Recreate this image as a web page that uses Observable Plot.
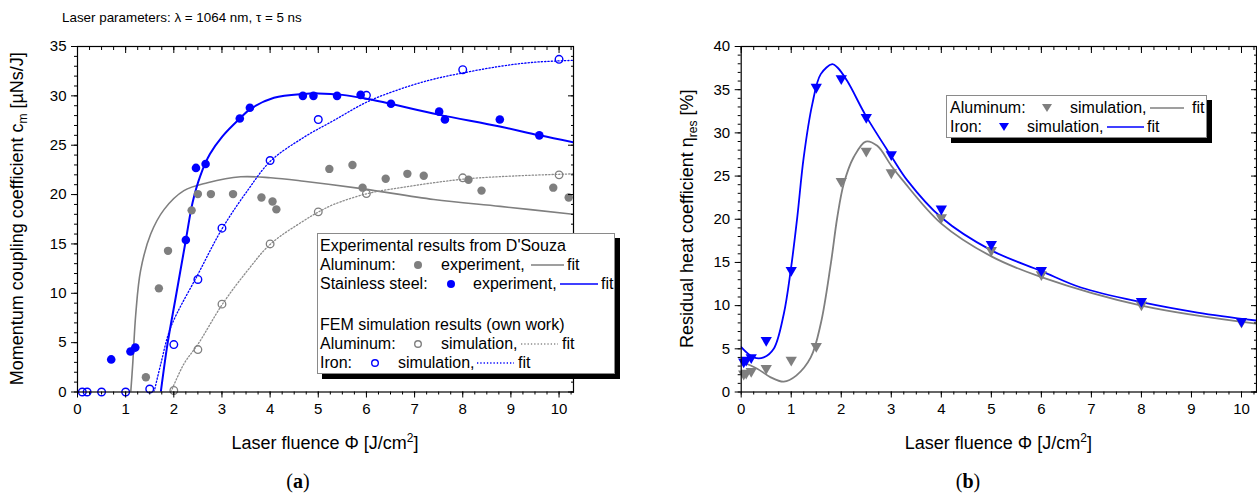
<!DOCTYPE html>
<html>
<head>
<meta charset="utf-8">
<script src="https://cdn.jsdelivr.net/npm/d3@7"></script>
<script src="https://cdn.jsdelivr.net/npm/@observablehq/plot@0.6"></script>
<style>
  body { margin: 0; background: #fff; }
  #wrap { position: relative; width: 1257px; height: 493px; background: #fff; overflow: hidden;
          font-family: "Liberation Sans", Arial, sans-serif; color: #000; }
  .abs { position: absolute; }
  .legend { position: absolute; background: #fff; border: 1px solid #8a8a8a; box-shadow: 5px 5px 0 0 #000; }
  .legend span, .legend svg { position: absolute; white-space: nowrap; font-size: 16px; line-height: 18px; }
  .cap { position: absolute; font-family: "Liberation Serif", "DejaVu Serif", serif; font-size: 20px; transform: translate(-50%, -50%); }
</style>
</head>
<body>
<div id="wrap">
  <div class="abs" style="left:62px; top:10px; font-size:13.4px;">Laser parameters: λ = 1064 nm, τ = 5 ns</div>
  <div id="pa" class="abs" style="left:0; top:0;"></div>
  <div id="pb" class="abs" style="left:640px; top:0;"></div>
  <div id="lega" class="legend" style="left:317px; top:233px; width:296px; height:139px;"></div>
  <div id="legb" class="legend" style="left:946px; top:95px; width:259px; height:41px;"></div>
  <div class="cap" style="left:298px; top:481px;">(<b>a</b>)</div>
  <div class="cap" style="left:968px; top:481px;">(<b>b</b>)</div>
</div>
<script>
// ---------- Panel (a): momentum coupling coefficient ----------
const steelExpX = [0.70, 1.10, 1.20, 2.25, 2.46, 2.66, 3.37, 3.58, 4.68, 4.90, 5.39, 5.88, 6.51, 7.51, 7.63, 8.77, 9.59];
const steelExpY = [3.3, 4.1, 4.5, 15.4, 22.7, 23.1, 27.7, 28.8, 30.0, 30.0, 30.0, 30.1, 29.2, 28.4, 27.6, 27.6, 26.0];
const steelFitX = [1.73, 1.87, 2.04, 2.25, 2.39, 2.55, 2.75, 3.01, 3.37, 3.60, 4.08, 4.70, 5.0, 5.5, 6.0, 6.5, 7.5, 8.77, 9.59, 10.3];
const steelFitY = [0, 4.9, 9.6, 15.4, 19.2, 21.9, 24.1, 25.9, 27.7, 28.7, 29.8, 30.2, 30.25, 30.1, 29.7, 29.2, 28.1, 26.9, 26.0, 25.3];

const alExpX = [1.42, 1.69, 1.88, 2.37, 2.50, 2.77, 3.23, 3.82, 4.05, 4.13, 5.23, 5.71, 5.92, 6.40, 6.85, 7.19, 8.12, 8.39, 9.88, 10.2];
const alExpY = [1.5, 10.5, 14.3, 18.4, 20.05, 20.05, 20.05, 19.7, 19.3, 18.5, 22.6, 23.0, 20.7, 21.6, 22.1, 21.9, 21.5, 20.4, 20.7, 19.7];
const alFitX = [1.106, 1.147, 1.21, 1.31, 1.52, 1.80, 2.21, 2.70, 3.39, 4.01, 4.70, 5.9, 7.40, 8.78, 10.3];
const alFitY = [0, 2.85, 7.9, 12.3, 16.0, 18.5, 20.4, 21.2, 21.8, 21.7, 21.35, 20.6, 19.5, 18.8, 18.0];

const feSimAX = [0.1, 0.2, 0.5, 1, 1.5, 2, 2.5, 3, 4, 5, 6, 8, 10];
const feSimAY = [0, 0, 0, 0, 0.3, 4.8, 11.4, 16.6, 23.45, 27.6, 30.05, 32.65, 33.7];
const feFitAX = [1.59, 1.73, 1.94, 2.51, 3.01, 3.53, 4.01, 4.70, 5.32, 6.02, 6.71, 7.40, 8.09, 8.78, 9.47, 10.3];
const feFitAY = [0, 2.85, 6.6, 12.0, 16.6, 20.4, 23.4, 25.8, 27.5, 29.4, 30.7, 31.7, 32.4, 33.0, 33.4, 33.6];

const alSimAX = [2, 2.5, 3, 4, 5, 6, 8, 10];
const alSimAY = [0.15, 4.3, 8.9, 15.0, 18.25, 20.1, 21.7, 22.0];
const alFitAX = [1.94, 2.21, 2.51, 3.01, 3.53, 4.01, 4.70, 5.01, 5.32, 6.02, 6.71, 7.40, 8.09, 9.13, 10.3];
const alFitAY = [0, 2.85, 4.9, 8.9, 12.3, 15.0, 17.35, 18.25, 19.0, 20.1, 20.7, 21.2, 21.6, 21.9, 22.1];

// ---------- Panel (b): residual heat coefficient ----------
const simBX = [0.05, 0.1, 0.2, 0.5, 1, 1.5, 2, 2.5, 3, 4, 5, 6, 8, 10];
const feSimBY = [3.5, 3.7, 4.0, 6.0, 14.1, 35.3, 36.3, 31.8, 27.5, 21.2, 17.1, 14.1, 10.5, 8.2];
const alSimBY = [2.1, 2.2, 2.4, 2.75, 3.7, 5.3, 24.4, 27.9, 25.4, 20.2, 16.4, 13.6, 10.1, 8.1];
const feFitBX = [0, 0.25, 0.45, 0.65, 0.85, 0.99, 1.12, 1.25, 1.42, 1.59, 1.82, 1.92, 2.12, 2.49, 3.0, 3.32, 4.0, 5.0, 6.0, 6.79, 8.0, 9.12, 10.3];
const feFitBY = [5.2, 4.0, 4.0, 5.0, 9.0, 14.1, 20.2, 27.2, 33.3, 36.8, 37.95, 37.6, 36.0, 32.0, 27.3, 24.5, 20.2, 16.4, 14.0, 12.1, 10.4, 9.2, 8.27];
const alFitBX = [0, 0.32, 0.59, 0.85, 1.1, 1.39, 1.59, 1.79, 1.92, 2.05, 2.25, 2.49, 2.72, 3.0, 3.23, 4.0, 5.0, 6.0, 8.0, 10.3];
const alFitBY = [3.5, 2.7, 1.7, 1.2, 1.9, 4.0, 7.9, 14.8, 20.2, 24.1, 27.2, 29.0, 28.5, 26.2, 24.5, 19.5, 15.7, 13.3, 10.0, 7.9];

// ticks
const xMajor = d3.range(0, 11, 1);
const xMinor = d3.range(0, 10.3, 0.25);
const yMajorA = d3.range(0, 36, 5);
const yMinorA = d3.range(0, 36, 1);
const yMajorB = d3.range(0, 41, 5);
const yMinorB = d3.range(0, 41, 1);

const BLUE = "#0000ff";
const GRAY = "#7f7f7f";
const GRAY_DOT = "#8c8c8c";
const FONT = '"Liberation Sans", Arial, sans-serif';

const zip = (xs, ys) => xs.map((x, i) => ({x, y: ys[i]}));

function axes(yMajor, yMinor) {
  const none = () => "";
  return [
    Plot.axisX(xMajor, {anchor: "bottom", tickSize: 6, tickPadding: 5, fontSize: 15, label: null}),
    Plot.axisX(xMinor, {anchor: "bottom", tickSize: 3, tickFormat: none, label: null}),
    Plot.axisX(xMajor, {anchor: "top", tickSize: 6, dy: 6, tickFormat: none, label: null}),
    Plot.axisX(xMinor, {anchor: "top", tickSize: 3, dy: 3, tickFormat: none, label: null}),
    Plot.axisY(yMajor, {anchor: "left", tickSize: 6, tickPadding: 5, fontSize: 15, label: null}),
    Plot.axisY(yMinor, {anchor: "left", tickSize: 3, tickFormat: none, label: null}),
    Plot.axisY(yMajor, {anchor: "right", tickSize: 6, dx: -6, tickFormat: none, label: null}),
    Plot.axisY(yMinor, {anchor: "right", tickSize: 3, dx: -3, tickFormat: none, label: null})
  ];
}

const common = {
  height: 460, marginTop: 46, marginBottom: 68.5,
  x: {domain: [0, 10.3]},
  style: {fontFamily: FONT, fontSize: "15px", color: "#000", background: "transparent", overflow: "visible"}
};

const plotA = Plot.plot({
  ...common,
  width: 630, marginLeft: 77, marginRight: 57,
  y: {domain: [0, 35]},
  marks: [
    Plot.line(zip(alFitX, alFitY), {x: "x", y: "y", stroke: GRAY, strokeWidth: 1.6, curve: "catmull-rom", clip: true}),
    Plot.line(zip(alFitAX, alFitAY), {x: "x", y: "y", stroke: GRAY_DOT, strokeWidth: 1.3, strokeDasharray: "1.3,2", curve: "catmull-rom", clip: true}),
    Plot.line(zip(feFitAX, feFitAY), {x: "x", y: "y", stroke: BLUE, strokeWidth: 1.3, strokeDasharray: "1.3,2", curve: "catmull-rom", clip: true}),
    Plot.line(zip(steelFitX, steelFitY), {x: "x", y: "y", stroke: BLUE, strokeWidth: 2, curve: "catmull-rom", clip: true}),
    Plot.dot(zip(alExpX, alExpY), {x: "x", y: "y", r: 4.2, fill: GRAY, stroke: "none"}),
    Plot.dot(zip(alSimAX, alSimAY), {x: "x", y: "y", r: 3.8, fill: "none", stroke: GRAY, strokeWidth: 1.3}),
    Plot.dot(zip(steelExpX, steelExpY), {x: "x", y: "y", r: 4.3, fill: BLUE, stroke: "none"}),
    Plot.dot(zip(feSimAX, feSimAY), {x: "x", y: "y", r: 3.8, fill: "none", stroke: BLUE, strokeWidth: 1.4}),
    ...axes(yMajorA, yMinorA),
    Plot.frame({stroke: "#000", strokeWidth: 1.2})
  ]
});

const plotB = Plot.plot({
  ...common,
  width: 617, marginLeft: 100.7, marginRight: 1,
  y: {domain: [0, 40]},
  marks: [
    Plot.line(zip(alFitBX, alFitBY), {x: "x", y: "y", stroke: GRAY, strokeWidth: 1.8, curve: "catmull-rom", clip: true}),
    Plot.line(zip(feFitBX, feFitBY), {x: "x", y: "y", stroke: BLUE, strokeWidth: 1.8, curve: "catmull-rom", clip: true}),
    Plot.dot(zip(simBX, alSimBY), {x: "x", y: "y", symbol: "triangle", rotate: 180, r: 4.2, fill: GRAY, stroke: "none"}),
    Plot.dot(zip(simBX, feSimBY), {x: "x", y: "y", symbol: "triangle", rotate: 180, r: 4.2, fill: BLUE, stroke: "none"}),
    ...axes(yMajorB, yMinorB),
    Plot.frame({stroke: "#000", strokeWidth: 1.2})
  ]
});

document.getElementById("pa").append(plotA);
document.getElementById("pb").append(plotB);

// axis titles (with sub/superscripts)
function xTitle(svg, cx) {
  const t = d3.select(svg).append("text").attr("x", cx).attr("y", 449)
    .attr("text-anchor", "middle").attr("font-size", 18).attr("font-family", FONT).attr("fill", "#000");
  t.append("tspan").text("Laser fluence Φ [J/cm");
  t.append("tspan").attr("font-size", 12).attr("dy", -7).text("2");
  t.append("tspan").attr("dy", 7).text("]");
}
function yTitle(svg, bx, main, sub, tail) {
  const t = d3.select(svg).append("text")
    .attr("transform", `translate(${bx},${(46 + 391.5) / 2}) rotate(-90)`)
    .attr("text-anchor", "middle").attr("font-size", 18).attr("font-family", FONT).attr("fill", "#000");
  t.append("tspan").text(main);
  t.append("tspan").attr("font-size", 12).attr("dy", 4).text(sub);
  t.append("tspan").attr("dy", -4).text(tail);
}
xTitle(plotA, (77 + 573) / 2);
xTitle(plotB, (100.7 + 616) / 2);
yTitle(plotA, 23, "Momentum coupling coefficient c", "m", " [µNs/J]");
yTitle(plotB, 53, "Residual heat coefficient η", "res", " [%]");

// legends
function sym(kind, color, left, top) {
  const s = d3.create("svg").attr("width", 14).attr("height", 14)
    .style("left", (left - 7) + "px").style("top", (top - 7) + "px");
  if (kind === "dot") s.append("circle").attr("cx", 7).attr("cy", 7).attr("r", 4).attr("fill", color);
  if (kind === "ring") s.append("circle").attr("cx", 7).attr("cy", 7).attr("r", 3.3).attr("fill", "none").attr("stroke", color).attr("stroke-width", 1.4);
  if (kind === "tri") s.append("path").attr("d", "M2,3 L12,3 L7,11 Z").attr("fill", color);
  return s.node();
}
function seg(color, dashed, left, right, top) {
  const s = d3.create("svg").attr("width", right - left).attr("height", 6)
    .style("left", left + "px").style("top", (top - 3) + "px");
  s.append("line").attr("x1", 0).attr("x2", right - left).attr("y1", 3).attr("y2", 3)
    .attr("stroke", color).attr("stroke-width", dashed ? 1.3 : 1.6)
    .attr("stroke-dasharray", dashed ? "1.3,2" : null);
  return s.node();
}
function txt(str, left, top) {
  const e = document.createElement("span");
  e.textContent = str; e.style.left = left + "px"; e.style.top = (top - 9) + "px";
  return e;
}
const la = document.getElementById("lega");
la.append(
  txt("Experimental results from D'Souza", 2, 12),
  txt("Aluminum:", 2, 31), sym("dot", GRAY, 100, 31), txt("experiment,", 123, 31), seg(GRAY, false, 213, 246, 31), txt("fit", 249, 31),
  txt("Stainless steel:", 2, 50), sym("dot", BLUE, 133, 50), txt("experiment,", 155, 50), seg(BLUE, false, 242, 280, 50), txt("fit", 283, 50),
  txt("FEM simulation results (own work)", 2, 91),
  txt("Aluminum:", 2, 110), sym("ring", GRAY, 100, 110), txt("simulation,", 123, 110), seg(GRAY_DOT, true, 203, 240, 110), txt("fit", 244, 110),
  txt("Iron:", 2, 129), sym("ring", BLUE, 57, 129), txt("simulation,", 80, 129), seg(BLUE, true, 159, 196, 129), txt("fit", 200, 129)
);
const lb = document.getElementById("legb");
lb.append(
  txt("Aluminum:", 3, 11.5), sym("tri", GRAY, 100, 11.5), txt("simulation,", 123, 11.5), seg(GRAY, false, 203, 237, 11.5), txt("fit", 245, 11.5),
  txt("Iron:", 3, 30.5), sym("tri", BLUE, 57, 30.5), txt("simulation,", 80, 30.5), seg(BLUE, false, 160, 197, 30.5), txt("fit", 200, 30.5)
);
</script>
</body>
</html>
